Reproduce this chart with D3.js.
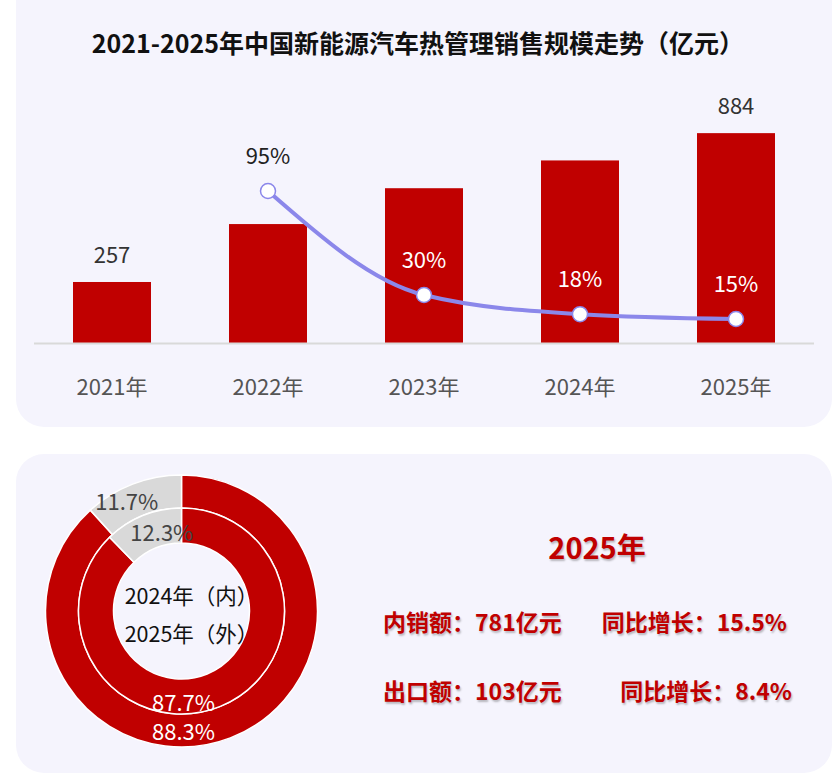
<!DOCTYPE html>
<html>
<head>
<meta charset="utf-8">
<script src="https://cdn.jsdelivr.net/npm/d3@7"></script>
<style>
  body { margin: 0; background: #fff; }
  svg text { font-family: "Noto Sans CJK SC", "Noto Sans", sans-serif; }
</style>
</head>
<body>
<div id="chart"></div>
<script>
// sales data (亿元)
const years = ["2021年", "2022年", "2023年", "2024年", "2025年"];
const sales = [257, 501, 652, 769, 884];
const salesLabels = ["257", "", "", "", "884"];
const growthYears = ["2022年", "2023年", "2024年", "2025年"];
const growth = [95, 30, 18, 15];

// 内销 / 出口 share
const shareNames = ["内销", "出口"];
const share2024 = [87.7, 12.3];
const share2025 = [88.3, 11.7];

const W = 833, H = 775;
const red = "#c00000";

const svg = d3.select("#chart").append("svg")
    .attr("width", W)
    .attr("height", H);

// panels
svg.append("rect")
    .attr("x", 16).attr("y", -30)
    .attr("width", 816).attr("height", 457)
    .attr("rx", 28)
    .attr("fill", "#f5f4fd");

svg.append("rect")
    .attr("x", 16).attr("y", 454)
    .attr("width", 816).attr("height", 319)
    .attr("rx", 28)
    .attr("fill", "#f5f4fd");

// title
svg.append("text")
    .attr("x", 418)
    .attr("y", 53)
    .attr("text-anchor", "middle")
    .style("font-size", "25px")
    .style("font-weight", "bold")
    .attr("fill", "#111")
    .text("2021-2025年中国新能源汽车热管理销售规模走势（亿元）");

// ---- bar chart ----
const baseY = 343;
const x = d3.scaleBand()
    .domain(years)
    .range([34, 814])
    .paddingInner(0.5)
    .paddingOuter(0.25);

const y = d3.scaleLinear()
    .domain([0, 1000])
    .range([baseY, baseY - 237.4]);

const yLine = d3.scaleLinear()
    .domain([0, 100])
    .range([baseY, baseY - 160]);

svg.selectAll("rect.bar")
    .data(sales)
    .enter()
    .append("rect")
    .attr("class", "bar")
    .attr("x", (d, i) => x(years[i]))
    .attr("y", d => y(d))
    .attr("width", x.bandwidth())
    .attr("height", d => baseY - y(d))
    .attr("fill", red);

// baseline
svg.append("line")
    .attr("x1", 34).attr("x2", 814)
    .attr("y1", baseY + 0.5).attr("y2", baseY + 0.5)
    .attr("stroke", "#d9d9d9")
    .attr("stroke-width", 2);

// x labels
svg.selectAll("text.xlab")
    .data(years)
    .enter()
    .append("text")
    .attr("class", "xlab")
    .attr("x", d => x(d) + x.bandwidth() / 2)
    .attr("y", 395)
    .attr("text-anchor", "middle")
    .style("font-size", "22px")
    .attr("fill", "#555")
    .text(d => d);

// value labels
svg.selectAll("text.vlab")
    .data(sales)
    .enter()
    .append("text")
    .attr("class", "vlab")
    .attr("x", (d, i) => x(years[i]) + x.bandwidth() / 2)
    .attr("y", d => y(d) - 19)
    .attr("text-anchor", "middle")
    .style("font-size", "22px")
    .attr("fill", "#333")
    .text((d, i) => salesLabels[i]);

// growth line
const line = d3.line()
    .x((d, i) => x(growthYears[i]) + x.bandwidth() / 2)
    .y(d => yLine(d))
    .curve(d3.curveMonotoneX);

svg.append("path")
    .datum(growth)
    .attr("d", line)
    .attr("fill", "none")
    .attr("stroke", "#8b87ea")
    .attr("stroke-width", 4);

svg.selectAll("circle.pt")
    .data(growth)
    .enter()
    .append("circle")
    .attr("class", "pt")
    .attr("cx", (d, i) => x(growthYears[i]) + x.bandwidth() / 2)
    .attr("cy", d => yLine(d))
    .attr("r", 7.5)
    .attr("fill", "#fff")
    .attr("stroke", "#8b87ea")
    .attr("stroke-width", 1.5);

svg.selectAll("text.glab")
    .data(growth)
    .enter()
    .append("text")
    .attr("class", "glab")
    .attr("x", (d, i) => x(growthYears[i]) + x.bandwidth() / 2)
    .attr("y", d => yLine(d) - 27)
    .attr("text-anchor", "middle")
    .style("font-size", "22px")
    .attr("fill", (d, i) => {
        const barTop = y(sales[years.indexOf(growthYears[i])]);
        return yLine(d) - 35 > barTop ? "#fff" : "#222";
    })
    .text(d => d + "%");

// ---- donut ----
const cx = 181.5, cy = 611;
const g = svg.append("g").attr("transform", `translate(${cx},${cy})`);
const pie = d3.pie().sort(null).value(d => d);
const colors = [red, "#d9d9d9"];

const arcOuter = d3.arc().innerRadius(103).outerRadius(136);
const arcInner = d3.arc().innerRadius(68).outerRadius(103);

g.selectAll("path.outer")
    .data(pie(share2025))
    .enter()
    .append("path")
    .attr("class", "outer")
    .attr("d", arcOuter)
    .attr("fill", (d, i) => colors[i])
    .attr("stroke", "#fff")
    .attr("stroke-width", 1.5);

g.selectAll("path.inner")
    .data(pie(share2024))
    .enter()
    .append("path")
    .attr("class", "inner")
    .attr("d", arcInner)
    .attr("fill", (d, i) => colors[i])
    .attr("stroke", "#fff")
    .attr("stroke-width", 1.5);

// donut labels: red share at bottom, gray share near its slice
const labelArcOuter = d3.arc().innerRadius(116).outerRadius(116);
const labelArcInner = d3.arc().innerRadius(84).outerRadius(84);

function donutLabel(arcs, labelArc, dyRed, dxGray) {
    arcs.forEach((a, i) => {
        let px, py;
        if (i === 0) {
            px = 2; py = dyRed;
        } else {
            [px, py] = labelArc.centroid(a);
            px += dxGray;
        }
        g.append("text")
            .attr("x", px)
            .attr("y", py)
            .attr("dy", "0.35em")
            .attr("text-anchor", "middle")
            .style("font-size", "22px")
            .attr("fill", i === 0 ? "#fff" : "#444")
            .text(a.data + "%");
    });
}
donutLabel(pie(share2025), labelArcOuter, 121, -13);
donutLabel(pie(share2024), labelArcInner, 92, 12);

g.append("text")
    .attr("x", 10).attr("y", -15)
    .attr("dy", "0.35em")
    .attr("text-anchor", "middle")
    .style("font-size", "21.5px")
    .attr("fill", "#111")
    .text("2024年（内）");

g.append("text")
    .attr("x", 10).attr("y", 23)
    .attr("dy", "0.35em")
    .attr("text-anchor", "middle")
    .style("font-size", "21.5px")
    .attr("fill", "#111")
    .text("2025年（外）");

// ---- 2025 summary text ----
const exportVal = 103, domesticVal = 781;
const shadow = "1px 2px 2px rgba(0,0,0,0.25)";

svg.append("text")
    .attr("x", 597).attr("y", 559)
    .attr("text-anchor", "middle")
    .style("font-size", "29px")
    .style("font-weight", "bold")
    .style("text-shadow", shadow)
    .attr("fill", red)
    .text("2025年");

const rows = [
    ["内销额：" + domesticVal + "亿元", "同比增长：15.5%", 623, 787],
    ["出口额：" + exportVal + "亿元", "同比增长：8.4%", 692, 792]
];
rows.forEach(r => {
    svg.append("text")
        .attr("x", 383).attr("y", r[2])
        .attr("dy", "0.35em")
        .style("font-size", "23px")
        .style("font-weight", "bold")
        .style("text-shadow", shadow)
        .attr("fill", red)
        .text(r[0]);
    svg.append("text")
        .attr("x", r[3]).attr("y", r[2])
        .attr("dy", "0.35em")
        .attr("text-anchor", "end")
        .style("font-size", "23px")
        .style("font-weight", "bold")
        .style("text-shadow", shadow)
        .attr("fill", red)
        .text(r[1]);
});
</script>
</body>
</html>
